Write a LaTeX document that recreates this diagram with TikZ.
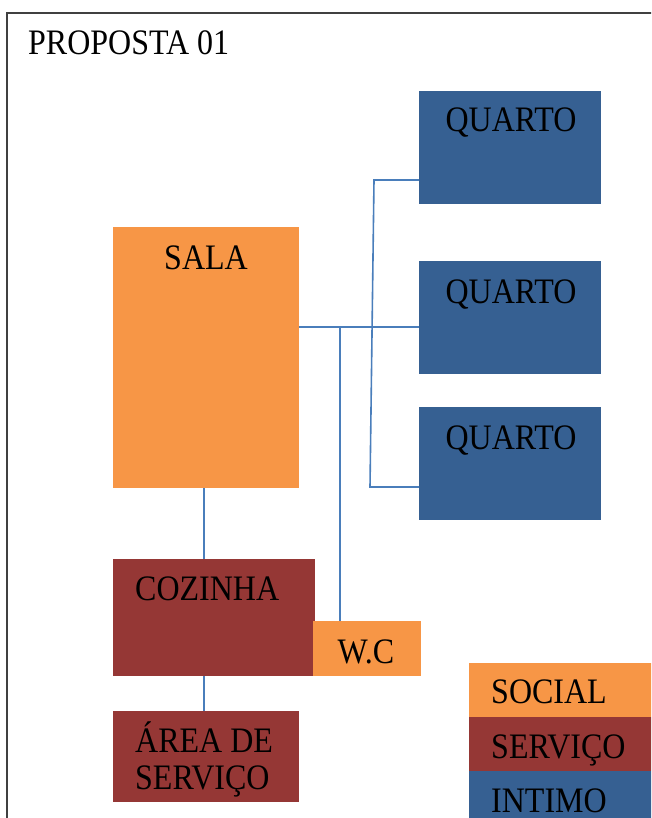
\documentclass[tikz,border=0pt]{standalone}
\usepackage{fontspec}
\setmainfont{Liberation Serif}
\definecolor{social}{HTML}{F79646}
\definecolor{servico}{HTML}{953735}
\definecolor{intimo}{HTML}{366092}
\definecolor{conncol}{HTML}{4A7EBB}
\newcommand{\tallt}[1]{\scalebox{1}[1.12]{#1}}
\begin{document}
\begin{tikzpicture}[x=1pt,y=1pt,
  room/.style={draw=none, inner sep=0pt, anchor=north west},
  lbl/.style={inner sep=0pt, anchor=base, font=\fontsize{32}{38}\selectfont},
  lbll/.style={inner sep=0pt, anchor=base west, font=\fontsize{32}{38}\selectfont},
  conn/.style={draw=conncol, line width=1.6pt}]
\useasboundingbox (0,0) rectangle (651,-818);
\clip (0,0) rectangle (651,-818);
\draw[draw=black!75, line width=1.3pt] (7,-13) rectangle (680,-840);
\node[lbll] (title) at (28,-55) {\tallt{PROPOSTA 01}};
% rooms
\node[room, fill=intimo, minimum width=182pt, minimum height=113pt] (q1) at (419,-91) {};
\node[room, fill=intimo, minimum width=182pt, minimum height=113pt] (q2) at (419,-261) {};
\node[room, fill=intimo, minimum width=182pt, minimum height=113pt] (q3) at (419,-407) {};
\node[room, fill=social, minimum width=186pt, minimum height=261pt] (sala) at (113,-227) {};
\node[room, fill=servico, minimum width=202pt, minimum height=117pt] (coz) at (113,-559) {};
\node[room, fill=social, minimum width=108pt, minimum height=55pt] (wc) at (313,-621) {};
\node[room, fill=servico, minimum width=186pt, minimum height=91pt] (area) at (113,-711) {};
% legend
\node[room, fill=social, minimum width=200pt, minimum height=54pt] (lsoc) at (469,-663) {};
\node[room, fill=servico, minimum width=200pt, minimum height=54pt] (lser) at (469,-717) {};
\node[room, fill=intimo, minimum width=200pt, minimum height=60pt] (lint) at (469,-771) {};
% labels
\node[lbl] (tq1) at (511,-132) {\tallt{QUARTO}};
\node[lbl] (tq2) at (511,-303) {\tallt{QUARTO}};
\node[lbl] (tq3) at (511,-449) {\tallt{QUARTO}};
\node[lbl] (tsala) at (206,-269) {\tallt{SALA}};
\node[lbll] (tcoz) at (135,-600) {\tallt{COZINHA}};
\node[lbl] (twc) at (366,-663) {\tallt{W.C}};
\node[lbll] (tarea1) at (135,-752) {\tallt{ÁREA DE}};
\node[lbll] (tarea2) at (135,-789) {\tallt{SERVIÇO}};
\node[lbll] (tlsoc) at (491,-703) {\tallt{SOCIAL}};
\node[lbll] (tlser) at (491,-758) {\tallt{SERVIÇO}};
\node[lbll] (tlint) at (491,-812) {\tallt{INTIMO}};
% connector points
\coordinate (hub) at (373,-327);
\coordinate (wcj) at (340,-327);
\coordinate (t1) at (374,-180);
\coordinate (t3) at (370,-487);
\coordinate (sc) at (204,-500);
% connectors
\draw[conn] (sala.east |- hub) -- (q2.west |- hub);
\draw[conn] (q1.west |- t1) -- (t1) -- (t3) -- (q3.west |- t3);
\draw[conn] (wcj) -- (wc.north -| wcj);
\draw[conn] (sala.south -| sc) -- (coz.north -| sc);
\draw[conn] (coz.south -| sc) -- (area.north -| sc);
\end{tikzpicture}
\end{document}
